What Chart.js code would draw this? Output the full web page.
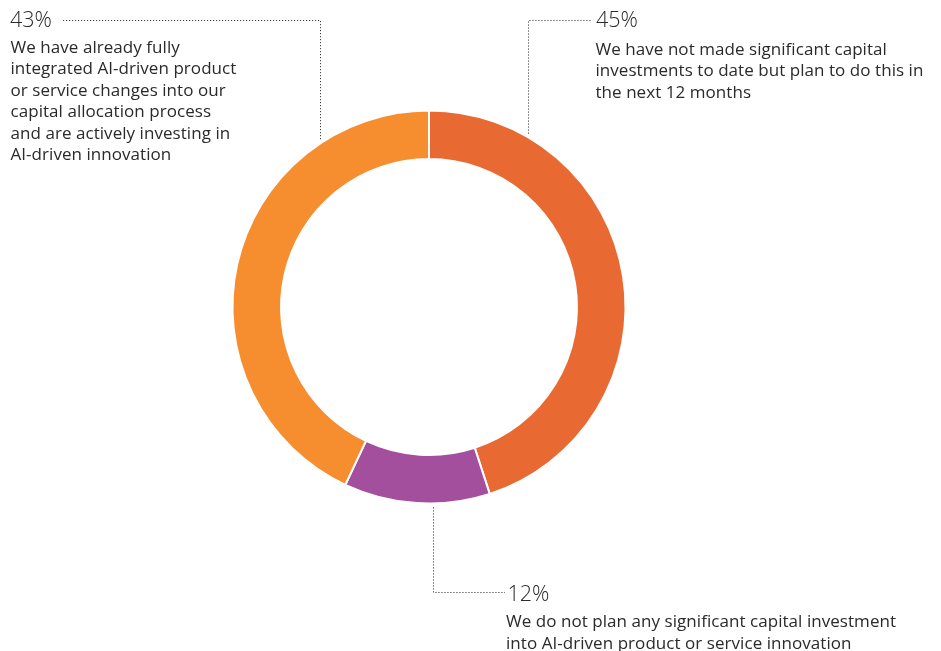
<!DOCTYPE html>
<html>
<head>
<meta charset="utf-8">
<script src="https://cdn.jsdelivr.net/npm/chart.js@4/dist/chart.umd.min.js"></script>
<style>
  html, body { margin:0; padding:0; background:#fff; }
  #wrap { position:relative; width:941px; height:651px; overflow:hidden; }
  canvas { position:absolute; left:0; top:0; }
  .pct { position:absolute; font-family: "Open Sans", Roboto, sans-serif; font-weight:300; font-size:21.5px; line-height:21.5px; color:#2a2a2a; white-space:nowrap; }
  .txt { position:absolute; font-family: "Open Sans", Roboto, sans-serif; font-weight:400; font-size:17px; letter-spacing:0.05px; line-height:21.5px; color:#2a2a2a; white-space:nowrap; }
</style>
</head>
<body>
<div id="wrap">
  <canvas id="c" width="941" height="651"></canvas>
  <div class="pct" id="p0" style="left:596px; top:7.9px;"></div>
  <div class="txt" id="t0" style="left:595.5px; top:37.6px;"></div>
  <div class="pct" id="p1" style="left:507.5px; top:581.6px;"></div>
  <div class="txt" id="t1" style="left:506px; top:610.3px;"></div>
  <div class="pct" id="p2" style="left:10px; top:7.9px;"></div>
  <div class="txt" id="t2" style="left:10.5px; top:35.6px;"></div>
</div>
<script>
// ---- data ----
const categories = [
  "We have not made significant capital investments to date but plan to do this in the next 12 months",
  "We do not plan any significant capital investment into AI-driven product or service innovation",
  "We have already fully integrated AI-driven product or service changes into our capital allocation process and are actively investing in AI-driven innovation"
];
const values = [45, 12, 43];
const valueLabels = ["45%", "12%", "43%"];
const labelLines = [
  ["We have not made significant capital", "investments to date but plan to do this in", "the next 12 months"],
  ["We do not plan any significant capital investment", "into AI-driven product or service innovation"],
  ["We have already fully", "integrated AI-driven product", "or service changes into our", "capital allocation process", "and are actively investing in", "AI-driven innovation"]
];
const colors = ["#E86932", "#A34F9D", "#F68D2E"];

// ---- text labels ----
values.forEach((v, i) => {
  document.getElementById('p' + i).textContent = valueLabels[i];
  const t = document.getElementById('t' + i);
  labelLines[i].forEach((ln, k) => {
    if (k) t.appendChild(document.createElement('br'));
    t.appendChild(document.createTextNode(ln));
  });
});

// leader line anchors (label side), x of vertical drop and y of horizontal run
const leaders = [
  { x: 528.5, y: 20.5, hx: 592, dir: -1 },   // 45%
  { x: 433.5, y: 592.5, hx: 505, dir: 1 },   // 12%
  { x: 320.5, y: 20.5, hx: 62, dir: -1 }     // 43%
];

const leaderPlugin = {
  id: 'leaders',
  afterDatasetsDraw(chart) {
    const ctx = chart.ctx;
    const arc = chart.getDatasetMeta(0).data[0];
    const cx = arc.x, cy = arc.y;
    const R = arc.outerRadius;
    ctx.save();
    ctx.strokeStyle = '#222';
    ctx.lineWidth = 1;
    ctx.setLineDash([1, 2]);
    leaders.forEach(l => {
      const dx = l.x - cx;
      const h = Math.sqrt(Math.max(R * R - dx * dx, 0));
      const ringY = l.dir < 0 ? cy - h - 4 : cy + h + 4;
      ctx.beginPath();
      ctx.moveTo(l.x, ringY);
      ctx.lineTo(l.x, l.y);
      ctx.lineTo(l.hx, l.y);
      ctx.stroke();
    });
    ctx.restore();
  }
};

new Chart(document.getElementById('c'), {
  type: 'doughnut',
  data: {
    labels: categories,
    datasets: [{
      data: values,
      backgroundColor: colors,
      borderColor: '#ffffff',
      borderWidth: 2,
      hoverOffset: 0
    }]
  },
  options: {
    responsive: false,
    devicePixelRatio: 1,
    animation: false,
    cutout: '75.3%',
    rotation: 0,
    layout: { padding: { left: 231.5, right: 314.5, top: 109.5, bottom: 146.5 } },
    plugins: { legend: { display: false }, tooltip: { enabled: false } }
  },
  plugins: [leaderPlugin]
});
</script>
</body>
</html>
